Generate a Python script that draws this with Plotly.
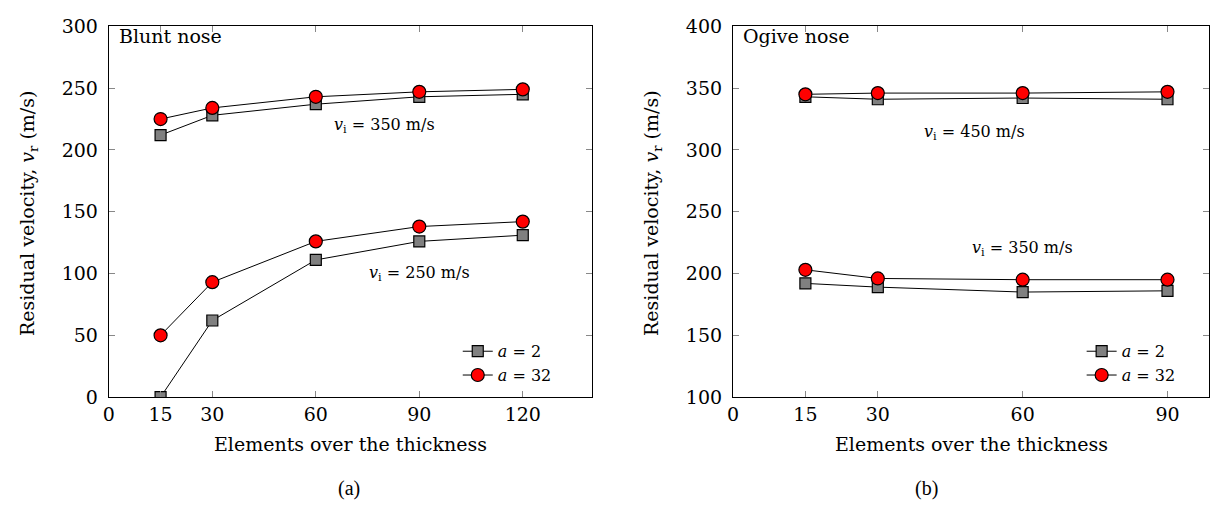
import plotly.graph_objects as go

# Elements over the thickness (mesh refinement levels)
elements_blunt = [15, 30, 60, 90, 120]
elements_ogive = [15, 30, 60, 90]

# Blunt nose residual velocities (m/s)
blunt_350_a2 = [212, 228, 237, 243, 245]
blunt_350_a32 = [225, 234, 243, 247, 249]
blunt_250_a2 = [0, 62, 111, 126, 131]
blunt_250_a32 = [50, 93, 126, 138, 142]

# Ogive nose residual velocities (m/s)
ogive_450_a2 = [343, 341, 342, 341]
ogive_450_a32 = [345, 346, 346, 347]
ogive_350_a2 = [192, 189, 185, 186]
ogive_350_a32 = [203, 196, 195, 195]

ticks_blunt_x = [0, 15, 30, 60, 90, 120]
ticks_ogive_x = [0, 15, 30, 60, 90]
ticks_blunt_y = [0, 50, 100, 150, 200, 250, 300]
ticks_ogive_y = [100, 150, 200, 250, 300, 350, 400]

FONT = "DejaVu Serif, Liberation Serif, serif"
CAPTION_FONT = "Liberation Serif, Times New Roman, serif"

sq = dict(symbol="square", size=11, color="#808080", line=dict(color="black", width=1.2))
ci = dict(symbol="circle", size=13, color="#ff0000", line=dict(color="black", width=1.2))
ln = dict(color="black", width=1)

fig = go.Figure()


def add_pair(x, y2, y32, xa, ya, legend, show):
    fig.add_trace(go.Scatter(x=x, y=y2, mode="lines+markers", marker=sq, line=ln,
                             name="<i>a</i> = 2", xaxis=xa, yaxis=ya,
                             legend=legend, showlegend=show))
    fig.add_trace(go.Scatter(x=x, y=y32, mode="lines+markers", marker=ci, line=ln,
                             name="<i>a</i> = 32", xaxis=xa, yaxis=ya,
                             legend=legend, showlegend=show))


add_pair(elements_blunt, blunt_250_a2, blunt_250_a32, "x", "y", "legend", False)
add_pair(elements_blunt, blunt_350_a2, blunt_350_a32, "x", "y", "legend", True)
add_pair(elements_ogive, ogive_350_a2, ogive_350_a32, "x2", "y2", "legend2", False)
add_pair(elements_ogive, ogive_450_a2, ogive_450_a32, "x2", "y2", "legend2", True)

axis_common = dict(
    showline=True, linecolor="black", linewidth=1.2, mirror="ticks",
    ticks="inside", ticklen=6, tickcolor="#888888", tickwidth=1,
    showgrid=False, zeroline=False,
    tickfont=dict(family=FONT, size=19, color="black"),
)
x_common = dict(axis_common, ticklabelstandoff=0)
y_common = dict(axis_common, ticklabelstandoff=6)

y_dom = [0.2324, 0.9695]
fig.update_layout(
    width=1213, height=525,
    margin=dict(l=0, r=0, t=0, b=0),
    paper_bgcolor="white", plot_bgcolor="white",
    font=dict(family=FONT, color="black"),
    xaxis=dict(domain=[0.0852, 0.4853], range=[0, 140], tickvals=ticks_blunt_x,
               anchor="y", **x_common),
    yaxis=dict(domain=y_dom, range=[0, 300], tickvals=ticks_blunt_y,
               anchor="x", **y_common),
    xaxis2=dict(domain=[0.6023, 0.9967], range=[0, 98.6], tickvals=ticks_ogive_x,
                anchor="y2", **x_common),
    yaxis2=dict(domain=y_dom, range=[100, 400], tickvals=ticks_ogive_y,
                anchor="x2", **y_common),
    legend=dict(x=454 / 1213, y=1 - 398 / 525, xanchor="left", yanchor="bottom",
                bgcolor="rgba(0,0,0,0)", font=dict(family=FONT, size=16),
                tracegroupgap=0, itemwidth=30),
    legend2=dict(x=1081 / 1213, y=1 - 398 / 525, xanchor="left", yanchor="bottom",
                 bgcolor="rgba(0,0,0,0)", font=dict(family=FONT, size=16),
                 tracegroupgap=0, itemwidth=30),
)

ann = []


def text(x, y, s, xref="paper", yref="paper", size=19, xanchor="center",
         family=FONT, **kw):
    ann.append(dict(x=x, y=y, xref=xref, yref=yref, text=s, showarrow=False,
                    xanchor=xanchor, yanchor="middle",
                    font=dict(family=family, size=size, color="black"), **kw))


# Panel labels and curve annotations
text(2.3, 292.5, "Blunt nose", "x", "y", xanchor="left")
text(1.6, 392, "Ogive nose", "x2", "y2", xanchor="left")
text(80, 220, "<i>v</i><sub>i</sub> = 350 m/s", "x", "y", size=16)
text(90, 100, "<i>v</i><sub>i</sub> = 250 m/s", "x", "y", size=16)
text(50, 314, "<i>v</i><sub>i</sub> = 450 m/s", "x2", "y2", size=16)
text(60, 220, "<i>v</i><sub>i</sub> = 350 m/s", "x2", "y2", size=16)

# Axis titles
for xc in (346 / 1213, 970 / 1213):
    text(xc, 1 - 452 / 525, "Elements over the thickness")
for xp in (22, 649):
    text(xp / 1213, 1 - 211 / 525, "Residual velocity, <i>v</i><sub>r</sub> (m/s)",
         textangle=-90)

# Sub-figure captions
text(345 / 1213, 1 - 498 / 525, "(a)", size=20, family=CAPTION_FONT)
text(925 / 1213, 1 - 498 / 525, "(b)", size=20, family=CAPTION_FONT)

fig.update_layout(annotations=ann)
fig.write_html("out.html")
